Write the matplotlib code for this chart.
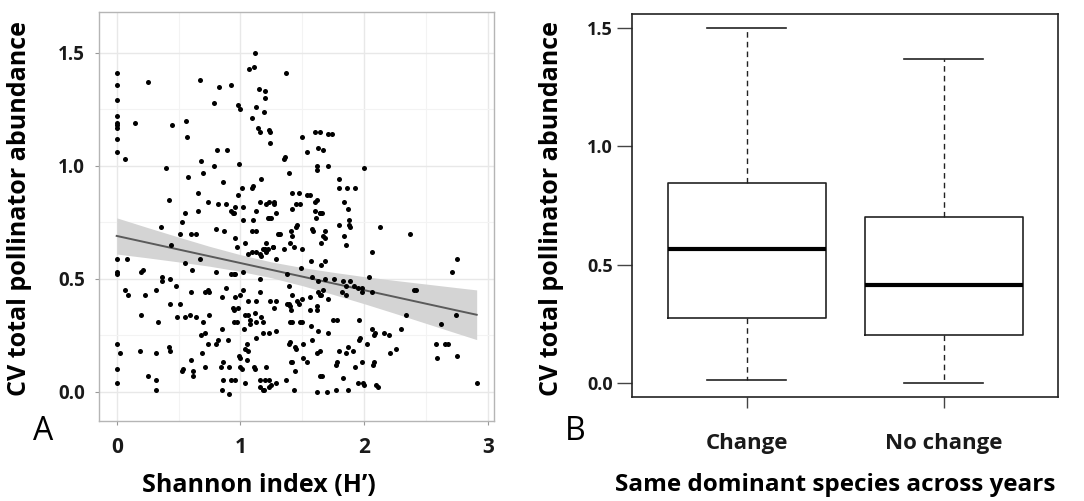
import matplotlib
matplotlib.use("Agg")
import matplotlib.pyplot as plt

plt.rcParams['font.family'] = ['Open Sans', 'DejaVu Sans']

# ---- panel A: scatter of CV vs Shannon index
shannon = [1.12, 1.07, 1.11, 1.37, 0.00, 0.67, 0.25, 0.92, 0.00, 0.83, 1.15, 1.20, 0.00, 1.20, 0.79,
           0.98, 1.00, 1.13, 1.19, 0.00, 0.00, 0.00, 0.00, 0.15, 0.56, 1.09, 0.45, 1.14, 1.16, 1.23,
           1.24, 0.57, 0.00, 1.50, 1.60, 1.64, 1.71, 1.74, 1.24, 0.00, 0.07, 0.81, 0.89, 1.54, 1.63,
           1.67, 1.35, 1.36, 0.68, 0.99, 0.79, 1.71, 1.62, 1.62, 0.40, 2.00, 0.70, 1.39, 0.58, 1.17,
           1.80, 0.86, 1.80, 1.86, 1.93, 1.01, 1.09, 1.10, 0.66, 1.42, 1.47, 0.98, 0.42, 0.74, 1.16,
           1.27, 1.27, 1.54, 1.56, 1.62, 1.60, 1.21, 1.23, 0.82, 0.88, 0.96, 1.84, 1.02, 1.45, 1.48,
           1.60, 1.13, 1.42, 0.92, 0.94, 0.95, 1.29, 0.55, 1.87, 0.66, 1.61, 1.64, 1.64, 1.66, 1.22,
           1.23, 1.25, 1.10, 1.02, 1.88, 1.88, 1.89, 0.53, 0.36, 0.87, 0.80, 1.09, 1.13, 1.30, 1.31,
           1.32, 1.41, 1.45, 1.46, 1.84, 1.68, 1.67, 1.68, 2.13, 2.37, 1.80, 1.58, 1.59, 1.42, 0.51,
           0.60, 0.64, 0.96, 1.04, 1.21, 1.26, 1.40, 1.65, 0.44, 0.97, 1.09, 1.13, 1.16, 1.17, 1.06,
           1.20, 1.21, 1.18, 1.22, 1.26, 1.35, 1.43, 1.50, 1.85, 2.06, 2.75, 0.00, 0.08, 0.67, 1.29,
           1.57, 1.68, 1.65, 2.71, 0.00, 0.00, 0.20, 0.21, 0.37, 0.43, 0.37, 0.55, 0.61, 0.80, 0.92,
           0.95, 0.96, 1.02, 1.16, 1.38, 1.39, 1.49, 1.58, 1.63, 1.68, 1.76, 1.83, 1.85, 1.89, 1.92,
           2.04, 2.06, 1.95, 1.98, 1.98, 1.85, 1.82, 2.40, 2.42, 1.63, 1.64, 1.65, 1.67, 1.71, 1.56,
           1.50, 1.46, 1.39, 1.42, 1.29, 1.24, 1.16, 1.13, 1.06, 1.02, 1.00, 0.96, 0.85, 0.88, 0.74,
           0.75, 0.71, 0.60, 0.48, 0.32, 0.23, 0.09, 0.07, 0.43, 0.51, 0.55, 0.49, 0.59, 0.64, 0.70,
           0.75, 0.94, 0.95, 0.98, 1.04, 1.06, 1.12, 1.17, 1.18, 1.27, 1.41, 1.38, 1.40, 1.47, 1.56,
           1.62, 1.62, 1.75, 1.78, 1.96, 2.34, 2.74, 2.62, 0.33, 0.20, 0.68, 0.71, 0.85, 0.95, 0.97,
           1.03, 1.08, 1.08, 1.13, 1.18, 1.23, 1.29, 1.40, 1.42, 1.48, 1.50, 1.57, 1.63, 1.71, 1.97,
           2.06, 2.08, 2.09, 2.16, 2.20, 2.30, 2.26, 2.21, 2.58, 2.65, 2.68, 2.59, 2.75, 2.91, 0.03,
           0.19, 0.32, 0.42, 0.43, 0.53, 0.54, 0.60, 0.62, 0.62, 0.69, 0.71, 0.74, 0.80, 0.82, 0.86,
           0.90, 0.84, 0.91, 0.92, 0.96, 0.99, 1.00, 1.00, 1.05, 1.04, 1.05, 1.06, 1.11, 1.12, 1.13,
           1.16, 1.16, 1.18, 1.19, 1.20, 1.21, 1.23, 1.25, 1.39, 1.40, 1.41, 1.42, 1.44, 1.44, 1.45,
           1.51, 1.51, 1.54, 1.58, 1.62, 1.64, 1.64, 1.66, 1.62, 1.70, 1.77, 1.77, 1.78, 1.80, 1.83,
           1.85, 1.87, 1.91, 1.93, 1.96, 1.98, 1.99, 2.00, 2.02, 2.07, 2.08, 2.10, 2.11, 1.87, 0.00,
           0.00, 0.00, 0.25, 0.32, 0.32, 0.86, 0.85, 0.91, 1.01, 1.04, 1.23, 1.29, 1.37, 1.43, 1.95]
cv_abund = [1.50, 1.43, 1.44, 1.41, 1.41, 1.38, 1.37, 1.36, 1.36, 1.35, 1.34, 1.33, 1.29, 1.30, 1.28,
            1.27, 1.25, 1.26, 1.24, 1.22, 1.19, 1.18, 1.17, 1.19, 1.20, 1.21, 1.18, 1.17, 1.15, 1.16,
            1.15, 1.13, 1.12, 1.13, 1.15, 1.15, 1.14, 1.14, 1.10, 1.06, 1.03, 1.07, 1.07, 1.06, 1.08,
            1.07, 1.03, 1.04, 1.02, 1.01, 1.00, 1.00, 1.00, 0.98, 0.99, 0.99, 0.97, 0.97, 0.95, 0.94,
            0.94, 0.93, 0.90, 0.90, 0.90, 0.90, 0.90, 0.91, 0.88, 0.88, 0.88, 0.87, 0.85, 0.84, 0.84,
            0.84, 0.83, 0.87, 0.87, 0.85, 0.84, 0.83, 0.84, 0.83, 0.83, 0.82, 0.84, 0.82, 0.83, 0.83,
            0.80, 0.80, 0.81, 0.80, 0.79, 0.79, 0.79, 0.79, 0.81, 0.80, 0.77, 0.79, 0.79, 0.79, 0.77,
            0.77, 0.77, 0.76, 0.76, 0.76, 0.74, 0.73, 0.75, 0.73, 0.71, 0.72, 0.71, 0.71, 0.70, 0.70,
            0.70, 0.71, 0.73, 0.74, 0.69, 0.71, 0.69, 0.68, 0.73, 0.70, 0.74, 0.72, 0.71, 0.69, 0.70,
            0.70, 0.70, 0.68, 0.66, 0.66, 0.64, 0.66, 0.66, 0.65, 0.64, 0.62, 0.62, 0.61, 0.60, 0.61,
            0.63, 0.62, 0.63, 0.63, 0.64, 0.63, 0.64, 0.63, 0.65, 0.62, 0.59, 0.59, 0.59, 0.59, 0.59,
            0.58, 0.58, 0.56, 0.53, 0.53, 0.52, 0.53, 0.54, 0.51, 0.50, 0.49, 0.57, 0.54, 0.53, 0.52,
            0.52, 0.52, 0.53, 0.50, 0.52, 0.47, 0.55, 0.51, 0.49, 0.50, 0.50, 0.49, 0.47, 0.49, 0.47,
            0.51, 0.44, 0.46, 0.46, 0.44, 0.43, 0.44, 0.45, 0.45, 0.44, 0.43, 0.43, 0.45, 0.41, 0.42,
            0.41, 0.40, 0.39, 0.43, 0.40, 0.40, 0.44, 0.40, 0.40, 0.45, 0.43, 0.42, 0.42, 0.46, 0.45,
            0.44, 0.44, 0.44, 0.47, 0.45, 0.43, 0.43, 0.45, 0.39, 0.39, 0.33, 0.33, 0.34, 0.33, 0.31,
            0.34, 0.37, 0.36, 0.37, 0.34, 0.34, 0.35, 0.33, 0.31, 0.37, 0.36, 0.39, 0.38, 0.39, 0.36,
            0.38, 0.36, 0.32, 0.32, 0.32, 0.34, 0.34, 0.30, 0.31, 0.34, 0.25, 0.26, 0.28, 0.31, 0.31,
            0.28, 0.30, 0.32, 0.31, 0.26, 0.26, 0.27, 0.31, 0.31, 0.31, 0.31, 0.29, 0.27, 0.26, 0.24,
            0.28, 0.25, 0.26, 0.26, 0.25, 0.28, 0.19, 0.17, 0.21, 0.21, 0.21, 0.15, 0.16, 0.04, 0.17,
            0.18, 0.17, 0.20, 0.18, 0.09, 0.10, 0.14, 0.09, 0.07, 0.17, 0.11, 0.21, 0.21, 0.23, 0.13,
            0.23, 0.11, 0.11, 0.05, 0.05, 0.16, 0.15, 0.11, 0.21, 0.19, 0.14, 0.18, 0.11, 0.10, 0.24,
            0.05, 0.02, 0.01, 0.01, 0.05, 0.11, 0.02, 0.03, 0.21, 0.22, 0.13, 0.13, 0.09, 0.20, 0.19,
            0.21, 0.15, 0.13, 0.23, 0.17, 0.18, 0.07, 0.07, 0.00, 0.00, 0.12, 0.01, 0.13, 0.18, 0.06,
            0.17, 0.20, 0.18, 0.11, 0.23, 0.13, 0.04, 0.03, 0.21, 0.12, 0.13, 0.03, 0.02, 0.01, 0.21,
            0.10, 0.04, 0.07, 0.01, 0.05, 0.05, 0.01, -0.01, 0.10, 0.04, 0.05, 0.04, 0.05, 0.01, 0.04]

# linear fit with 95% band
fit_x = [0.00, 0.25, 0.50, 0.75, 1.00, 1.25, 1.50, 1.75, 2.00, 2.25, 2.50, 2.75, 2.91]
fit_y = [0.690, 0.660, 0.630, 0.600, 0.570, 0.540, 0.510, 0.480, 0.450, 0.420, 0.390, 0.360, 0.341]
fit_lo = [0.610, 0.593, 0.575, 0.556, 0.533, 0.505, 0.470, 0.431, 0.390, 0.347, 0.303, 0.259, 0.231]
fit_hi = [0.770, 0.727, 0.685, 0.644, 0.607, 0.575, 0.550, 0.529, 0.510, 0.493, 0.477, 0.461, 0.451]

# ---- panel B: boxplot summary
groups = ["Change", "No change"]
whislo = [0.011, 0.000]
q1 = [0.274, 0.201]
med = [0.566, 0.413]
q3 = [0.844, 0.703]
whishi = [1.500, 1.369]

W, H = 1084, 501
fig = plt.figure(figsize=(W / 100, H / 100), dpi=100)

# panel A
axA = fig.add_axes([99 / W, 1 - 420.7 / H, 395 / W, 408.4 / H])
axA.fill_between(fit_x, fit_lo, fit_hi, color='#d4d4d4', lw=0, zorder=2)
axA.plot(fit_x, fit_y, color='#5a5a5a', lw=1.4, zorder=3)
axA.scatter(shannon, cv_abund, s=13, color='black', lw=0, zorder=4)
axA.set_xlim(-0.143, 3.05)
axA.set_ylim(-0.128, 1.68)
axA.set_xticks([0, 1, 2, 3])
axA.set_xticklabels(['0', '1', '2', '3'])
axA.set_yticks([0, 0.5, 1.0, 1.5])
axA.set_yticklabels(['0.0', '0.5', '1.0', '1.5'])
axA.set_xticks([0.5, 1.5, 2.5], minor=True)
axA.set_yticks([0.25, 0.75, 1.25], minor=True)
axA.grid(True, which='major', color='#e8e8e8', lw=1.0, zorder=0)
axA.grid(True, which='minor', color='#f3f3f3', lw=0.8, zorder=0)
axA.set_axisbelow(True)
for sp in axA.spines.values():
    sp.set_color('#b5b5b5')
    sp.set_linewidth(1.0)
axA.tick_params(which='major', length=3, color='#999999', width=0.8)
axA.tick_params(which='minor', length=0)
axA.tick_params(axis='y', labelsize=13.5, pad=7)
axA.tick_params(axis='x', labelsize=15, pad=9)
for t in axA.get_xticklabels() + axA.get_yticklabels():
    t.set_fontweight('bold')
    t.set_color('#1a1a1a')

# panel B
axB = fig.add_axes([632.3 / W, 1 - 396.7 / H, 426 / W, 382.4 / H])
stats = []
for i in range(len(groups)):
    stats.append({'label': groups[i], 'whislo': whislo[i], 'q1': q1[i], 'med': med[i],
                  'q3': q3[i], 'whishi': whishi[i]})
axB.bxp(stats, positions=[1, 2], widths=0.8, showfliers=False, capwidths=0.4,
        boxprops=dict(color='#222222', lw=1.2),
        whiskerprops=dict(color='#222222', lw=1.0, linestyle=(0, (4, 3))),
        capprops=dict(color='#222222', lw=1.2),
        medianprops=dict(color='black', lw=3.0))
axB.set_xlim(0.42, 2.58)
axB.set_ylim(-0.06, 1.56)
axB.set_yticks([0, 0.5, 1.0, 1.5])
axB.set_yticklabels(['0.0', '0.5', '1.0', '1.5'])
axB.set_xticks([1, 2])
axB.set_xticklabels(groups)
for sp in axB.spines.values():
    sp.set_color('#222222')
    sp.set_linewidth(1.2)
axB.tick_params(axis='y', length=11, width=1.0, color='#444444', labelsize=13, pad=3)
axB.tick_params(axis='x', length=8, width=1.0, color='#444444', labelsize=16, pad=18)
for t in axB.get_xticklabels() + axB.get_yticklabels():
    t.set_fontweight('bold')
    t.set_color('#1a1a1a')

# axis titles and panel letters
fig.text(20 / W, 1 - 209 / H, 'CV total pollinator abundance', rotation=90,
         ha='center', va='center', fontsize=18, fontweight='bold')
fig.text(552 / W, 1 - 209 / H, 'CV total pollinator abundance', rotation=90,
         ha='center', va='center', fontsize=18, fontweight='bold')
fig.text(259 / W, 1 - 485 / H, 'Shannon index (H\u2019)', ha='center', va='center',
         fontsize=18, fontweight='bold')
fig.text(835 / W, 1 - 485 / H, 'Same dominant species across years', ha='center', va='center',
         fontsize=17.5, fontweight='bold')
fig.text(43 / W, 1 - 432 / H, 'A', ha='center', va='center', fontsize=23)
fig.text(575 / W, 1 - 432 / H, 'B', ha='center', va='center', fontsize=23)

fig.savefig('out.png', dpi=100)
